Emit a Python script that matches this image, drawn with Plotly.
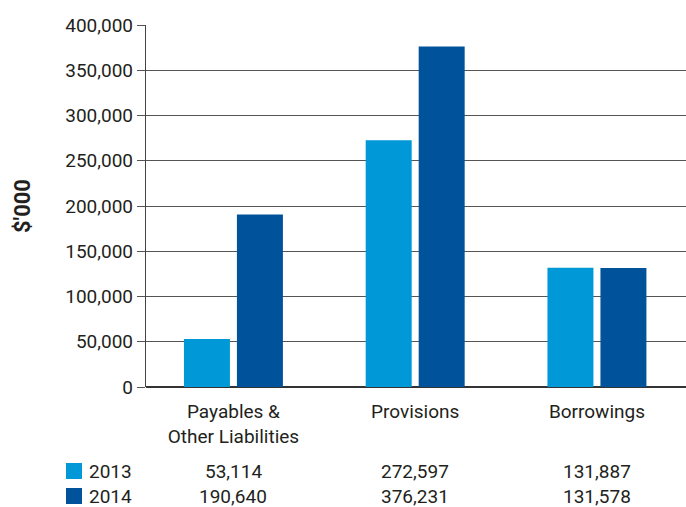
import plotly.graph_objects as go

categories = ["Payables &<br>Other Liabilities", "Provisions", "Borrowings"]
years = ["2013", "2014"]
values_2013 = [53114, 272597, 131887]
values_2014 = [190640, 376231, 131578]
colors = ["#0098d6", "#00529b"]
y_ticks = [0, 50000, 100000, 150000, 200000, 250000, 300000, 350000, 400000]
y_tick_labels = ["0", "50,000", "100,000", "150,000", "200,000", "250,000", "300,000", "350,000", "400,000"]

FONT = "Roboto"
TXT = "#231f20"
FS = 19

fig = go.Figure()
series = [values_2013, values_2014]
for yr, vals, col in zip(years, series, colors):
    fig.add_trace(go.Bar(x=list(range(len(categories))), y=vals, name=yr,
                         marker=dict(color=col, line=dict(width=0)),
                         showlegend=False))

annotations = []
shapes = []
row_y = [471, 496]
for r, (yr, vals, col) in enumerate(zip(years, series, colors)):
    ypix = row_y[r]
    yp = 1 - (ypix - 25) / (387 - 25)
    shapes.append(dict(type="rect", xref="paper", yref="paper",
                       x0=(66 - 146) / 540, x1=(82 - 146) / 540,
                       y0=1 - (ypix + 8 - 25) / 362, y1=1 - (ypix - 8 - 25) / 362,
                       fillcolor=col, line=dict(width=0)))
    annotations.append(dict(text=yr, xref="paper", yref="paper",
                            x=(87 - 146) / 540, y=yp, xanchor="left", yanchor="middle",
                            showarrow=False, font=dict(family=FONT, size=FS, color=TXT)))
    for i, v in enumerate(vals):
        annotations.append(dict(text=f"{v:,}", xref="x", yref="paper",
                                x=i, y=yp, xanchor="center", yanchor="middle",
                                showarrow=False, font=dict(family=FONT, size=FS, color=TXT)))

fig.update_layout(
    width=686, height=507,
    margin=dict(l=146, r=0, t=25, b=120, autoexpand=False),
    paper_bgcolor="white", plot_bgcolor="white",
    barmode="group", bargap=0.417, bargroupgap=0.132,
    font=dict(family=FONT, size=FS, color=TXT),
    xaxis=dict(tickmode="array", tickvals=list(range(len(categories))), ticktext=categories,
               range=[-0.481, 2.49], showgrid=False, showline=False, ticks="",
               ticklabelstandoff=11,
               tickfont=dict(family=FONT, size=FS, color=TXT)),
    yaxis=dict(range=[0, 400000], tickvals=y_ticks, ticktext=y_tick_labels,
               showgrid=True, gridcolor="#555555", gridwidth=1.3,
               showline=True, linecolor="#444444", linewidth=1.3,
               ticks="outside", ticklen=8, tickcolor="#555555", tickwidth=1.3,
               zeroline=True, zerolinecolor="#333333", zerolinewidth=1.5,
               tickfont=dict(family=FONT, size=FS, color=TXT),
               title=dict(text="<b>$'000</b>", font=dict(family=FONT, size=22, color=TXT), standoff=28)),
    annotations=annotations, shapes=shapes,
)

fig.write_html("out.html", config={"displayModeBar": False},
               post_script="document.body.style.margin='0';document.body.style.padding='0';")
